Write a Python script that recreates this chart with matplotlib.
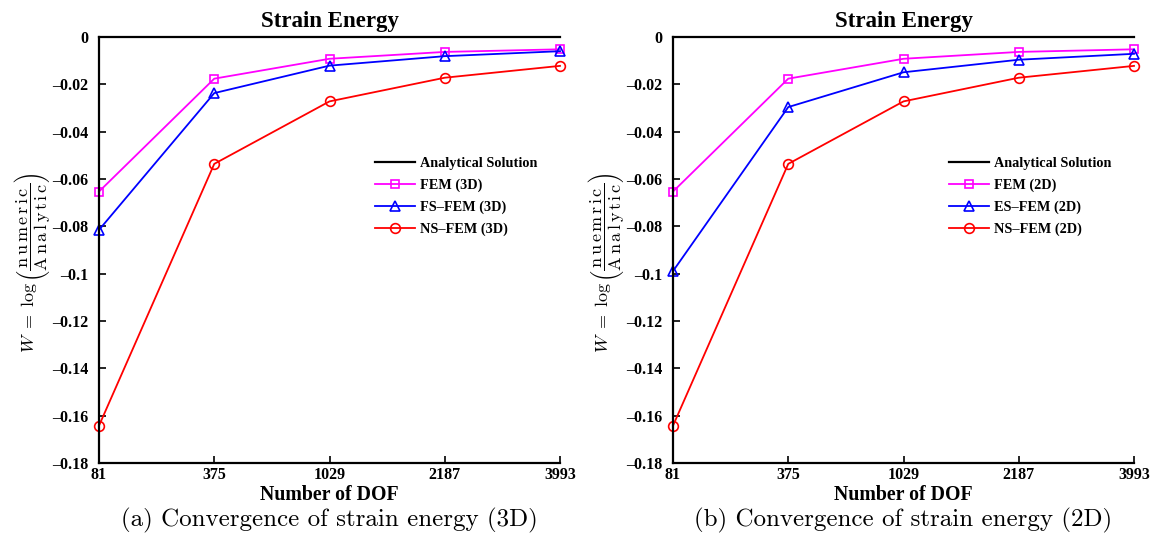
import matplotlib
matplotlib.use('Agg')
import matplotlib.pyplot as plt

# data
dof_labels = ['81', '375', '1029', '2187', '3993']
fem = [-0.0653, -0.0176, -0.0092, -0.0063, -0.0052]
fs_fem_3d = [-0.0815, -0.0237, -0.0121, -0.0081, -0.0060]
es_fem_2d = [-0.0989, -0.0296, -0.0149, -0.0096, -0.0071]
ns_fem = [-0.1642, -0.0536, -0.0272, -0.0172, -0.0122]
analytic = [0, 0, 0, 0, 0]
yticks = [-0.18, -0.16, -0.14, -0.12, -0.1, -0.08, -0.06, -0.04, -0.02, 0]

plt.rcParams['font.family'] = 'Liberation Serif'
plt.rcParams['font.weight'] = 'bold'
plt.rcParams['mathtext.fontset'] = 'cm'

fig = plt.figure(figsize=(11.76, 5.49), dpi=100)

panels = [
    (0.0842, fs_fem_3d, 'FS\u2013FEM (3D)', '3D', r'n\,u\,m\,e\,r\,i\,c',
     '(a) Convergence of strain energy (3D)'),
    (0.5723, es_fem_2d, 'ES\u2013FEM (2D)', '2D', r'n\,u\,e\,m\,r\,i\,c',
     '(b) Convergence of strain energy (2D)'),
]

x = list(range(len(dof_labels)))

for left, mid, mid_name, dim, num, caption in panels:
    ax = fig.add_axes([left, 0.1566, 0.392, 0.776])
    ax.plot(x, analytic, color='black', lw=1.6, clip_on=False, label='Analytical Solution')
    ax.plot(x, fem, color='magenta', lw=1.3, marker='s', ms=6, mfc='none', mew=1.2,
            clip_on=False, label='FEM (%s)' % dim)
    ax.plot(x, mid, color='blue', lw=1.3, marker='^', ms=7.5, mfc='none', mew=1.2,
            clip_on=False, label=mid_name)
    ax.plot(x, ns_fem, color='red', lw=1.3, marker='o', ms=7, mfc='none', mew=1.2,
            clip_on=False, label='NS\u2013FEM (%s)' % dim)

    ax.set_xlim(0, 4)
    ax.set_ylim(-0.18, 0)
    ax.set_xticks(x)
    ax.set_xticklabels(dof_labels, fontsize=11.5, fontweight='bold')
    ax.set_yticks(yticks)
    ax.set_yticklabels(['0' if v == 0 else ('%g' % v).replace('-', '\u2013') for v in yticks],
                       fontsize=11.5, fontweight='bold')
    ax.tick_params(direction='in', length=5, width=1.2)
    ax.tick_params(axis='x', pad=3)
    ax.tick_params(axis='y', pad=8)
    for s in ['top', 'right']:
        ax.spines[s].set_visible(False)
    for s in ['left', 'bottom']:
        ax.spines[s].set_linewidth(1.6)

    ax.set_title('Strain Energy', fontsize=16.5, fontweight='bold', pad=7)
    ax.set_xlabel('Number of DOF', fontsize=14.3, fontweight='bold', labelpad=1)
    ax.set_ylabel(r'$W\;=\;\log\left(\dfrac{\mathrm{%s}}{\mathrm{A\,n\,a\,l\,y\,t\,i\,c}}\right)$' % num,
                  fontsize=13)
    ax.yaxis.set_label_coords(-0.102, 0.47)

    leg = ax.legend(loc='upper left', bbox_to_anchor=(0.57, 0.748), frameon=False,
                    prop={'size': 10.3, 'weight': 'bold'}, handlelength=2.8,
                    handletextpad=0.4, labelspacing=0.6)

    fig.text(left + 0.196, 0.052, caption, ha='center', va='center',
             fontsize=18, family='cmr10', fontweight='normal')

fig.savefig('out.png', dpi=100)
